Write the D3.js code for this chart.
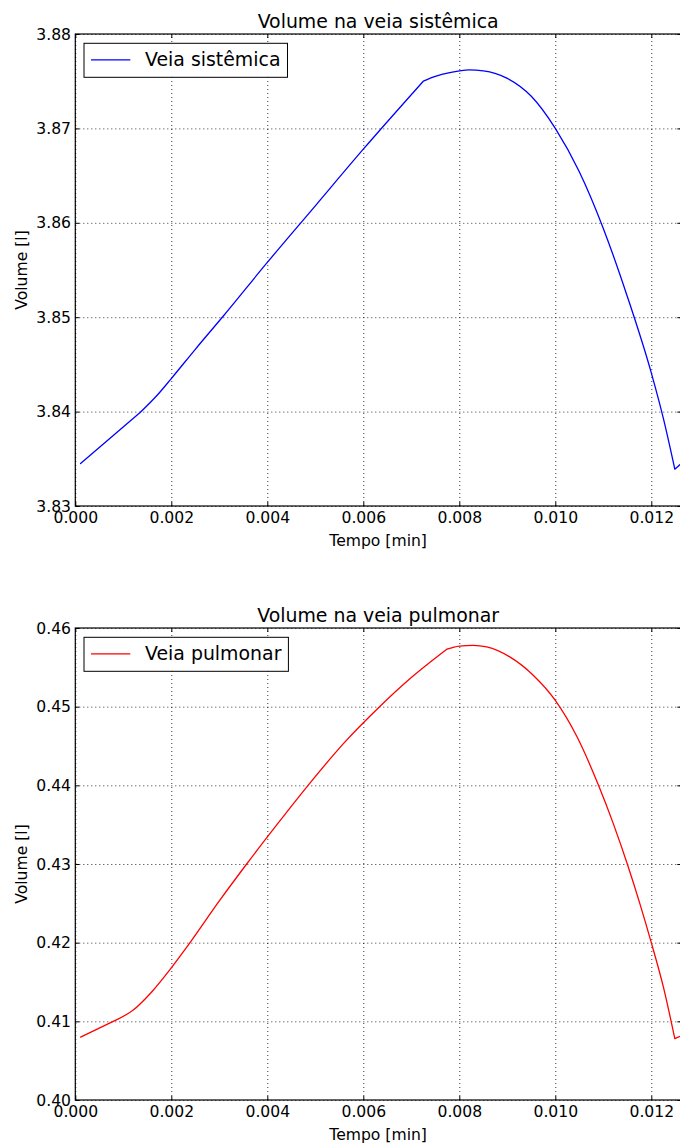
<!DOCTYPE html>
<html>
<head>
<meta charset="utf-8">
<script src="https://cdn.jsdelivr.net/npm/d3@7"></script>
<style>
body { margin: 0; background: #fff; }
text { font-family: "DejaVu Sans", sans-serif; fill: #000; }
.grid line { stroke: #000; stroke-width: 0.8; stroke-dasharray: 1,3; }
.grid path, .ticks path { display: none; }
.ticks line { stroke: #000; stroke-width: 1; }
.frame { fill: none; stroke: #000; stroke-width: 1.2; }
.curve { fill: none; stroke-width: 1.3; stroke-linecap: round; stroke-linejoin: round; }
.legend rect { fill: #fff; stroke: #000; stroke-width: 1; }
</style>
</head>
<body>
<div class="container"></div>
<script>
// volume na veia sistêmica [l] x tempo [min]
var tempoSis = [0.00011, 0.00135, 0.0017, 0.002, 0.0025, 0.00308, 0.004, 0.005, 0.006, 0.00725,
	0.0075, 0.0078, 0.0082, 0.0085, 0.009, 0.0095, 0.010, 0.0105, 0.011, 0.0115,
	0.012, 0.01225, 0.01249, 0.0126];
var volumeSis = [3.8345, 3.8399, 3.8417, 3.8435, 3.8466, 3.8501, 3.8558, 3.8618, 3.8678, 3.8750,
	3.8755, 3.8759, 3.8762, 3.8761, 3.8753, 3.8734, 3.8700, 3.8654, 3.8594, 3.8522,
	3.8441, 3.8393, 3.8339, 3.8344];
// indices where the curve changes phase (sharp corners)
var quebrasSis = [1, 9, 22];

// volume na veia pulmonar [l] x tempo [min]
var tempoPul = [0.00011, 0.00079, 0.0012, 0.0016, 0.002, 0.00239, 0.003, 0.00357, 0.0042, 0.00485,
	0.0056, 0.00634, 0.0070, 0.00774, 0.008, 0.00829, 0.00857, 0.00906, 0.00954, 0.010,
	0.01045, 0.0109, 0.01121, 0.0115, 0.01176, 0.012, 0.01225, 0.01249, 0.0126];
var volumePul = [0.4080, 0.4100, 0.4114, 0.4138, 0.4168, 0.4200, 0.4253, 0.4300, 0.4350, 0.4400,
	0.4454, 0.4500, 0.4537, 0.4573, 0.4577, 0.4578, 0.4576, 0.4563, 0.4540, 0.4508,
	0.4462, 0.4400, 0.4351, 0.4300, 0.4250, 0.4200, 0.4144, 0.4078, 0.4081];
var quebrasPul = [1, 13, 27];

var xTicks = [0, 0.002, 0.004, 0.006, 0.008, 0.010, 0.012];
var ySisTicks = [3.83, 3.84, 3.85, 3.86, 3.87, 3.88];
var yPulTicks = [0.40, 0.41, 0.42, 0.43, 0.44, 0.45, 0.46];

const WIDTH = 680;
const HEIGHT = 1144;
const LEFT = 75.3;
const PLOT_W = 606;
const PLOT_H = 472;
const X_MAX = 0.012625;

var svg;

var translate = function(x, y){
	return "translate("+x+","+y+")";
};

// smooth between corners, sharp at the corners themselves
var segmentedPath = function(line, tempo, volume, breaks){
	var pts = tempo.map(function(t, i){ return [t, volume[i]]; });
	var cuts = [0].concat(breaks, [pts.length - 1]);
	var d = '';
	for (var k = 0; k < cuts.length - 1; k++){
		d += line(pts.slice(cuts[k], cuts[k+1] + 1));
	}
	return d;
};

var drawPanel = function(id, top, tempo, volume, breaks, yTicks, color, title, label){
	var x = d3.scaleLinear().domain([0, X_MAX]).range([0, PLOT_W]);
	var y = d3.scaleLinear().domain([yTicks[0], yTicks[yTicks.length - 1]]).range([PLOT_H, 0]);

	var g = svg.append('g').attr('transform', translate(LEFT, top));

	g.append('clipPath').attr('id', 'clip-' + id)
		.append('rect').attr('width', PLOT_W).attr('height', PLOT_H);

	// dotted grid
	g.append('g').classed('grid', true)
		.attr('transform', translate(0, PLOT_H))
		.call(d3.axisBottom(x).tickValues(xTicks).tickSize(-PLOT_H).tickFormat(''));
	g.append('g').classed('grid', true)
		.call(d3.axisLeft(y).tickValues(yTicks).tickSize(-PLOT_W).tickFormat(''));

	var line = d3.line()
		.curve(d3.curveMonotoneX)
		.x(function(d){ return x(d[0]); })
		.y(function(d){ return y(d[1]); });

	g.append('path')
		.classed('curve', true)
		.attr('clip-path', 'url(#clip-' + id + ')')
		.attr('stroke', color)
		.attr('d', segmentedPath(line, tempo, volume, breaks));

	// inward ticks on all four sides
	var bottom = g.append('g').classed('ticks', true)
		.attr('transform', translate(0, PLOT_H))
		.call(d3.axisBottom(x).tickValues(xTicks).tickSize(-4).tickPadding(6.4).tickFormat(d3.format('.3f')));
	bottom.selectAll('text').style('font-size', '15.6px');

	g.append('g').classed('ticks', true)
		.call(d3.axisTop(x).tickValues(xTicks).tickSize(-4).tickFormat(''));

	var left = g.append('g').classed('ticks', true)
		.call(d3.axisLeft(y).tickValues(yTicks).tickSize(-4).tickPadding(4.3).tickFormat(d3.format('.2f')));
	left.selectAll('text').style('font-size', '15.6px');

	g.append('g').classed('ticks', true)
		.attr('transform', translate(PLOT_W, 0))
		.call(d3.axisRight(y).tickValues(yTicks).tickSize(-4).tickFormat(''));

	g.append('rect').classed('frame', true)
		.attr('width', PLOT_W).attr('height', PLOT_H);

	g.append('text')
		.attr('x', (680 - LEFT) / 2 + 0.5).attr('y', -6)
		.attr('text-anchor', 'middle')
		.style('font-size', '18.9px')
		.text(title);

	g.append('text')
		.attr('x', (680 - LEFT) / 2 + 0.5).attr('y', PLOT_H + 40)
		.attr('text-anchor', 'middle')
		.style('font-size', '15.6px')
		.text('Tempo [min]');

	g.append('text')
		.attr('transform', translate(27 - LEFT, PLOT_H / 2) + ' rotate(-90)')
		.attr('text-anchor', 'middle')
		.style('font-size', '15.6px')
		.text('Volume [l]');

	// legend
	var leg = g.append('g').classed('legend', true).attr('transform', translate(8.7, 9.3));
	var box = leg.append('rect').attr('height', 34);
	leg.append('line')
		.attr('x1', 7).attr('x2', 46.3).attr('y1', 16.5).attr('y2', 16.5)
		.attr('stroke', color).attr('stroke-width', 1.3);
	var txt = leg.append('text')
		.attr('x', 61).attr('y', 23)
		.style('font-size', '18.9px')
		.text(label);
	box.attr('width', 61 + txt.node().getComputedTextLength() + 7);
};

var loadChart = function(){
	svg = d3.select('.container').append('svg')
		.attr('width', WIDTH)
		.attr('height', HEIGHT);

	svg.append('rect').attr('width', WIDTH).attr('height', HEIGHT).attr('fill', '#fff');

	drawPanel('sis', 34, tempoSis, volumeSis, quebrasSis, ySisTicks, '#0000ff', 'Volume na veia sistêmica', 'Veia sistêmica');
	drawPanel('pul', 628, tempoPul, volumePul, quebrasPul, yPulTicks, '#ff0000', 'Volume na veia pulmonar', 'Veia pulmonar');
};

window.onload = loadChart;
</script>
</body>
</html>
